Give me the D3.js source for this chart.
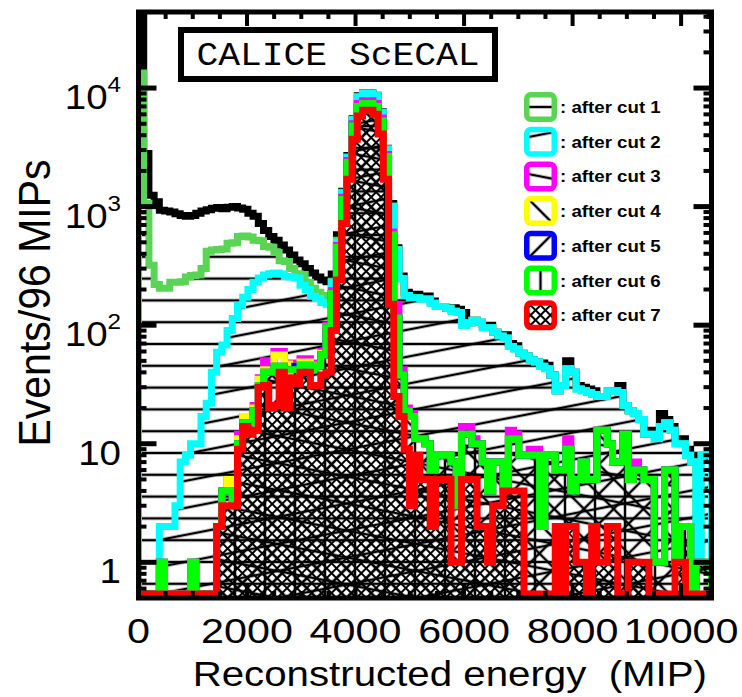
<!DOCTYPE html>
<html>
<head>
<meta charset="utf-8">
<script src="https://cdn.jsdelivr.net/npm/d3@7"></script>
<style>
  body { margin: 0; background: #ffffff; }
  svg { display: block; }
</style>
</head>
<body>
<div id="chart"></div>
<script>
// histogram data: 110 bins of 96 MIP, counts per bin (0 = empty bin)

const binWidth = 96;

const noCut = [
  60000, 2800, 1250, 1100, 930, 920, 900, 870, 840, 830,
  840, 880, 920, 940, 970, 985, 960, 990, 1000, 975,
  950, 880, 830, 720, 630, 560, 520, 475, 430, 390,
  355, 330, 300, 275, 255, 240, 232, 270, 580, 1350,
  2700, 5500, 8600, 9100, 9100, 8700, 6300, 3100, 1060, 450,
  260, 190, 182, 182, 176, 176, 160, 144, 144, 139,
  140, 136, 128, 105, 110, 106, 100, 100, 87, 81,
  83, 70, 67, 58, 55, 51, 49, 48, 46, 38,
  28, 31, 50, 40, 31, 30, 29, 28, 25, 25,
  28, 28, 31, 21, 19, 18, 16, 12, 13, 12,
  18, 16, 14, 11, 11, 9, 8, 8, 8, 8
];

const cut1 = [
  13400, 1070, 320, 220, 205, 205, 230, 230, 232, 255,
  262, 265, 300, 420, 430, 435, 440, 490, 495, 560,
  565, 555, 520, 515, 460, 455, 410, 350, 345, 300,
  272, 268, 230, 205, 190, 178, 175, 235, 520, 1320,
  2620, 5420, 8450, 9050, 9050, 8650, 6250, 3080, 1010, 435,
  248, 178, 170, 170, 166, 166, 153, 144, 144, 139,
  131, 128, 100, 105, 110, 106, 95, 95, 87, 81,
  78, 66, 63, 58, 55, 51, 49, 45, 43, 38,
  28, 31, 43, 40, 29, 28, 27, 26, 25, 25,
  28, 28, 27, 21, 19, 18, 16, 12, 12, 11,
  14, 15, 13, 10, 10, 8, 7, 1, 8, 8
];

const cut2 = [
  0, 0, 0, 0, 2, 2, 2, 3, 7, 8,
  10, 10, 17, 22, 40, 59, 68, 90, 114, 147,
  172, 200, 230, 250, 265, 272, 275, 270, 258, 255,
  250, 217, 200, 175, 168, 155, 150, 230, 500, 1300,
  2600, 5400, 8400, 9000, 9000, 8600, 6200, 3050, 1000, 430,
  245, 178, 170, 170, 166, 166, 153, 144, 144, 139,
  131, 128, 100, 105, 110, 106, 95, 95, 87, 81,
  78, 66, 63, 58, 55, 51, 49, 45, 43, 38,
  28, 31, 43, 40, 29, 28, 27, 26, 25, 25,
  28, 28, 27, 21, 19, 18, 16, 12, 12, 11,
  14, 15, 13, 10, 10, 8, 7, 1, 8, 8
];

const cut3 = [
  0, 0, 0, 0, 1, 0, 0, 0, 0, 0,
  1, 0, 0, 0, 0, 2, 4, 5, 3, 12,
  17, 17, 21, 36, 50, 48, 60, 60, 48, 48,
  48, 52, 52, 45, 48, 60, 100, 195, 470, 1200,
  2450, 5000, 7400, 7800, 7800, 7400, 5600, 2750, 610, 150,
  42, 20, 18, 11, 11, 10, 6, 8, 8, 8,
  7, 3, 14, 14, 11, 10, 7, 4, 7, 7,
  4, 13, 12, 8, 8, 9, 9, 2, 8, 8,
  6, 6, 11, 4, 5, 7, 5, 5, 13, 13,
  10, 7, 7, 12, 5, 7, 6, 5, 5, 1,
  1, 6, 6, 2, 2, 2, 0, 1, 1, 1
];

const cut4 = [
  0, 0, 0, 0, 1, 0, 0, 0, 0, 0,
  1, 0, 0, 0, 0, 2, 4, 5, 3, 11,
  17, 16, 20, 35, 42, 42, 56, 56, 47, 45,
  45, 49, 49, 43, 46, 58, 96, 185, 455, 1150,
  2350, 4800, 7000, 7400, 7400, 7000, 5300, 2650, 580, 115,
  38, 19, 17, 11, 11, 10, 6, 8, 8, 8,
  7, 3, 12, 12, 10, 10, 7, 4, 7, 7,
  4, 11, 11, 8, 8, 8, 8, 2, 8, 8,
  6, 6, 9, 4, 5, 7, 5, 5, 13, 13,
  10, 7, 7, 12, 5, 6, 6, 5, 5, 1,
  1, 6, 6, 1, 2, 2, 0, 1, 1, 1
];

const cut5 = [
  0, 0, 0, 0, 1, 0, 0, 0, 0, 0,
  1, 0, 0, 0, 0, 2, 4, 4, 3, 10,
  15, 15, 19, 31, 40, 40, 45, 45, 42, 42,
  45, 46, 46, 42, 45, 56, 95, 185, 455, 1150,
  2350, 4800, 7000, 7400, 7400, 7000, 5300, 2650, 580, 115,
  38, 19, 17, 11, 11, 10, 6, 8, 8, 8,
  7, 3, 12, 12, 10, 10, 7, 4, 7, 7,
  4, 11, 11, 8, 8, 8, 8, 2, 8, 8,
  6, 6, 9, 4, 5, 7, 5, 5, 13, 13,
  10, 7, 7, 12, 5, 6, 6, 5, 5, 1,
  1, 6, 6, 1, 2, 2, 0, 1, 1, 1
];

const cut6 = [
  0, 0, 0, 0, 1, 0, 0, 0, 0, 0,
  1, 0, 0, 0, 0, 2, 4, 4, 3, 10,
  15, 15, 19, 31, 40, 40, 45, 45, 42, 42,
  42, 46, 46, 42, 45, 56, 95, 185, 455, 1150,
  2350, 4800, 7000, 7400, 7400, 7000, 5300, 2650, 580, 115,
  38, 19, 17, 11, 11, 10, 6, 8, 8, 8,
  7, 3, 12, 12, 10, 10, 7, 4, 7, 7,
  4, 11, 11, 8, 8, 8, 8, 2, 8, 8,
  6, 6, 9, 4, 5, 7, 5, 5, 13, 13,
  10, 7, 7, 12, 5, 6, 6, 5, 5, 1,
  1, 6, 6, 1, 2, 2, 0, 1, 1, 1
];

const cut7 = [
  0, 0, 0, 0, 0, 0, 0, 0, 0, 0,
  0, 0, 0, 0, 0, 2, 3, 3, 3, 9,
  14, 12, 13, 30, 31, 20, 21, 40, 20, 36,
  32, 40, 40, 31, 31, 38, 40, 90, 240, 720,
  1700, 3700, 5800, 6500, 6500, 6000, 4100, 1700, 150, 25,
  17, 9, 3, 8, 5, 5, 2, 5, 5, 5,
  1, 1, 5, 5, 5, 2, 2, 1, 3, 3,
  4, 4, 4, 4, 0, 0, 0, 0, 0, 0,
  2, 0, 2, 2, 1, 1, 0, 2, 1, 1,
  2, 2, 0, 0, 1, 1, 1, 1, 0, 0,
  0, 0, 0, 1, 1, 0, 0, 0, 0, 0
];

const cutLabels = ['after cut 1', 'after cut 2', 'after cut 3', 'after cut 4',
                   'after cut 5', 'after cut 6', 'after cut 7'];

const xTickValues = [0, 2000, 4000, 6000, 8000, 10000];
const yTickValues = [1, 10, 100, 1000, 10000];
const yTickBases = ['1', '10', '10', '10', '10'];
const yTickExps = ['', '', '2', '3', '4'];

// config

const width = 742;
const height = 697;
const plot = { left: 138.5, right: 711.5, top: 12, bottom: 598 };
const nBins = noCut.length;

const svg = d3.select('#chart')
  .append('svg')
  .attr('width', width)
  .attr('height', height)
  .attr('viewBox', [0, 0, width, height])
  .style('font-family', '"Liberation Sans", Arial, Helvetica, sans-serif');

const defs = svg.append('defs');

// scales

const x = d3.scaleLinear()
  .domain([0, nBins * binWidth])
  .range([plot.left, plot.right]);

const y = d3.scaleLog()
  .domain([0.5, 43800])
  .range([plot.bottom, plot.top]);

// empty bins sit on the floor of the frame
const yPos = (v) => v > 0 ? y(v) : plot.bottom - 4;

// series styles (hatch patterns like the ROOT fill styles)

const series = [
  { values: noCut, color: '#000000', hatch: null },
  { values: cut1, color: '#59d454', hatch: { angle: 0, gap: 21.8, ox: 0, oy: 562 } },
  { values: cut2, color: '#00ffff', hatch: { angle: -11, gap: 26.5 } },
  { values: cut3, color: '#ff00ff', hatch: { angle: 11, gap: 26.5 } },
  { values: cut4, color: '#ffff00', hatch: { angle: 45, gap: 21 } },
  { values: cut5, color: '#0000ff', hatch: { angle: -45, gap: 21 } },
  { values: cut6, color: '#00ff00', hatch: { angle: 90, gap: 30, ox: 145 } },
  { values: cut7, color: '#ff0000', hatch: { angle: 45, gap: 7, cross: true } }
];

function addHatch(id, h, ox, oy) {
  const g = h.gap;
  const p = defs.append('pattern')
    .attr('id', id)
    .attr('patternUnits', 'userSpaceOnUse')
    .attr('width', g)
    .attr('height', g)
    .attr('patternTransform', `translate(${ox},${oy}) rotate(${h.angle})`);
  [0, g].forEach((v) => {
    p.append('line').attr('x1', -1).attr('x2', g + 1).attr('y1', v).attr('y2', v);
    if (h.cross) {
      p.append('line').attr('x1', v).attr('x2', v).attr('y1', -1).attr('y2', g + 1);
    }
  });
  p.selectAll('line')
    .attr('stroke', '#000')
    .attr('stroke-width', h.cross ? 2 : 2.5);
}

series.forEach((s, k) => {
  if (s.hatch) {
    const h = s.hatch;
    addHatch('hatch' + k, h,
      h.ox !== undefined ? h.ox : plot.left,
      h.oy !== undefined ? h.oy : plot.bottom);
  }
});

defs.append('clipPath')
  .attr('id', 'plotClip')
  .append('rect')
  .attr('x', plot.left)
  .attr('y', plot.top)
  .attr('width', plot.right - plot.left)
  .attr('height', plot.bottom - plot.top);

// step outline of a histogram

function stepPoints(values) {
  const pts = [[x(0), yPos(0)]];
  values.forEach((v, i) => {
    pts.push([x(i * binWidth), yPos(v)]);
    pts.push([x((i + 1) * binWidth), yPos(v)]);
  });
  pts.push([x(values.length * binWidth), yPos(0)]);
  return pts;
}

const line = d3.line();
const area = d3.area()
  .x((d) => d[0])
  .y0(plot.bottom)
  .y1((d) => d[1]);

// draw the histograms, ROOT style: fill then line, one after the other

const plotArea = svg.append('g').attr('clip-path', 'url(#plotClip)');

series.forEach((s, k) => {
  const pts = stepPoints(s.values);
  if (s.hatch) {
    plotArea.append('path')
      .attr('d', area(pts))
      .attr('fill', `url(#hatch${k})`);
  }
  plotArea.append('path')
    .attr('d', line(pts))
    .attr('fill', 'none')
    .attr('stroke', s.color)
    .attr('stroke-width', 7)
    .attr('stroke-linejoin', 'miter');
});

// frame and ticks

const axes = svg.append('g').attr('stroke', '#000');

d3.range(0, nBins * binWidth + 1, 500).forEach((v) => {
  const len = v % 2000 === 0 ? 14 : 7;
  axes.append('line')
    .attr('x1', x(v)).attr('x2', x(v))
    .attr('y1', plot.bottom).attr('y2', plot.bottom - len)
    .attr('stroke-width', 4);
  axes.append('line')
    .attr('x1', x(v)).attr('x2', x(v))
    .attr('y1', plot.top).attr('y2', plot.top + len)
    .attr('stroke-width', 4);
});

for (let d = -1; d <= 4; d++) {
  for (let m = 1; m <= 9; m++) {
    const v = m * Math.pow(10, d);
    if (v <= y.domain()[0] || v >= y.domain()[1]) continue;
    const len = m === 1 ? 18 : 8;
    const sw = m === 1 ? 5 : 4;
    axes.append('line')
      .attr('x1', plot.left).attr('x2', plot.left + len)
      .attr('y1', y(v)).attr('y2', y(v))
      .attr('stroke-width', sw);
    axes.append('line')
      .attr('x1', plot.right).attr('x2', plot.right - len)
      .attr('y1', y(v)).attr('y2', y(v))
      .attr('stroke-width', sw);
  }
}

axes.append('rect')
  .attr('x', plot.left)
  .attr('y', plot.top)
  .attr('width', plot.right - plot.left)
  .attr('height', plot.bottom - plot.top)
  .attr('fill', 'none')
  .attr('stroke-width', 5);

// tick labels

xTickValues.forEach((v) => {
  svg.append('text')
    .attr('transform', `translate(${x(v)},643) scale(1.18,1)`)
    .attr('text-anchor', 'middle')
    .attr('font-size', 35)
    .text(String(v));
});

yTickValues.forEach((v, i) => {
  const t = svg.append('text')
    .attr('transform', `translate(121,${y(v) + 21}) scale(1.1,1)`)
    .attr('text-anchor', 'end')
    .attr('font-size', 35)
    .text(yTickBases[i]);
  if (yTickExps[i]) {
    t.append('tspan')
      .attr('dy', -17)
      .attr('font-size', 22)
      .text(yTickExps[i]);
  }
});

// axis titles

svg.append('text')
  .attr('transform', 'translate(707,686) scale(1.15,1)')
  .attr('text-anchor', 'end')
  .attr('font-size', 35)
  .style('white-space', 'pre')
  .text('Reconstructed energy  (MIP)');

svg.append('text')
  .attr('transform', 'translate(50,303) rotate(-90) scale(1,1.1)')
  .attr('text-anchor', 'middle')
  .attr('font-size', 41)
  .text('Events/96 MIPs');

// CALICE box

svg.append('rect')
  .attr('x', 181)
  .attr('y', 30)
  .attr('width', 314)
  .attr('height', 49)
  .attr('fill', '#ffffff')
  .attr('stroke', '#000')
  .attr('stroke-width', 6);

svg.append('text')
  .attr('transform', 'translate(338,65) scale(1.1,1)')
  .attr('text-anchor', 'middle')
  .attr('font-family', '"Courier New", Courier, "Liberation Mono", monospace')
  .attr('font-size', 33)
  .text('CALICE ScECAL');

// legend

cutLabels.forEach((label, i) => {
  const s = series[i + 1];
  const cy = 107 + i * 34.7;
  const cx = 540.5;
  addHatch('leg' + i, s.hatch, cx, i === 1 ? cy - 7 : cy);
  svg.append('rect')
    .attr('x', cx - 13.75)
    .attr('y', cy - 12.25)
    .attr('width', 27.5)
    .attr('height', 24.5)
    .attr('rx', 4)
    .attr('fill', `url(#leg${i})`)
    .attr('stroke', s.color)
    .attr('stroke-width', 5.5);
  svg.append('text')
    .attr('transform', `translate(560,${cy + 6}) scale(1.1,1)`)
    .attr('font-size', 17)
    .attr('font-weight', 'bold')
    .text(': ' + label);
});
</script>
</body>
</html>
